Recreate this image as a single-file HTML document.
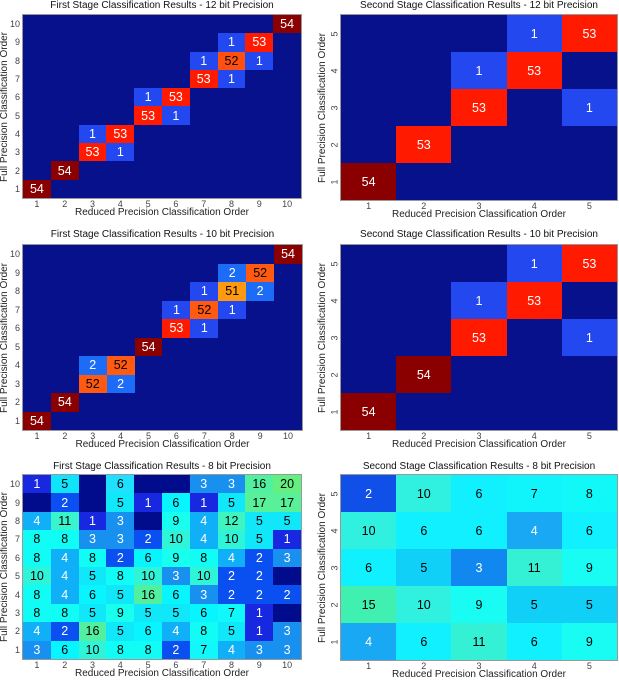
<!DOCTYPE html>
<html><head><meta charset="utf-8"><style>
body{margin:0;width:619px;height:679px;background:#fff;position:relative;overflow:hidden;font-family:"Liberation Sans",Arial,sans-serif}
.ax{position:absolute}
.g{position:absolute;left:0;top:0;width:100%;height:100%;display:grid;background:#07118c;box-shadow:0 0 0 1px #999}
.g10{grid-template-columns:repeat(10,1fr);grid-template-rows:repeat(10,1fr)}
.g5{grid-template-columns:repeat(5,1fr);grid-template-rows:repeat(5,1fr)}
.g>div{display:flex;align-items:center;justify-content:center;font-size:12.5px;color:#fff}
.k{color:#000!important}
.t{position:absolute;left:-60px;right:-60px;top:-15px;height:12px;line-height:12px;text-align:center;font-size:10px;color:#111;white-space:nowrap}
.xl{position:absolute;left:-40px;right:-40px;top:calc(100% + 9px);line-height:12px;text-align:center;font-size:10px;color:#222;white-space:nowrap}
.xt{position:absolute;left:0;width:100%;top:calc(100% + 1px);display:grid;font-size:9px;line-height:10px;color:#444;text-align:center}
.yt{position:absolute;top:0;height:100%;display:grid;font-size:9px;color:#444;text-align:right;width:14px;right:calc(100% + 3px)}
.yt.r{right:calc(100% - 1px)}
.yt div{display:flex;align-items:center;justify-content:flex-end}
.yt.r div{justify-content:center}
.yt.r div span{display:inline-block;transform:rotate(-90deg)}
.yl{position:absolute;top:50%;width:200px;left:-118px;margin-top:-6px;line-height:12px;text-align:center;font-size:10px;color:#222;transform:rotate(-90deg);white-space:nowrap}
.x10{grid-template-columns:repeat(10,1fr)}.x5{grid-template-columns:repeat(5,1fr)}
.y10{grid-template-rows:repeat(10,1fr)}.y5{grid-template-rows:repeat(5,1fr)}
</style></head><body>

<!-- TL -->
<div class="ax" style="left:23px;top:15px;width:278px;height:183px">
<div class="g g10">
<div style="grid-area:1/10;background:#8a0000">54</div>
<div style="grid-area:2/8;background:#2348f0">1</div><div style="grid-area:2/9;background:#ff1a00">53</div>
<div style="grid-area:3/7;background:#2348f0">1</div><div class="k" style="grid-area:3/8;background:#ff5010">52</div><div style="grid-area:3/9;background:#2348f0">1</div>
<div style="grid-area:4/7;background:#ff1a00">53</div><div style="grid-area:4/8;background:#2348f0">1</div>
<div style="grid-area:5/5;background:#2348f0">1</div><div style="grid-area:5/6;background:#ff1a00">53</div>
<div style="grid-area:6/5;background:#ff1a00">53</div><div style="grid-area:6/6;background:#2348f0">1</div>
<div style="grid-area:7/3;background:#2348f0">1</div><div style="grid-area:7/4;background:#ff1a00">53</div>
<div style="grid-area:8/3;background:#ff1a00">53</div><div style="grid-area:8/4;background:#2348f0">1</div>
<div style="grid-area:9/2;background:#8a0000">54</div>
<div style="grid-area:10/1;background:#8a0000">54</div>
</div>
<div class="t">First Stage Classification Results - 12 bit Precision</div>
<div class="xt x10"><span>1</span><span>2</span><span>3</span><span>4</span><span>5</span><span>6</span><span>7</span><span>8</span><span>9</span><span>10</span></div>
<div class="yt y10"><div>10</div><div>9</div><div>8</div><div>7</div><div>6</div><div>5</div><div>4</div><div>3</div><div>2</div><div>1</div></div>
<div class="xl">Reduced Precision Classification Order</div>
<div class="yl">Full Precision Classification Order</div>
</div>

<!-- TR -->
<div class="ax" style="left:341px;top:15px;width:276px;height:185px">
<div class="g g5">
<div style="grid-area:1/4;background:#2348f0">1</div><div style="grid-area:1/5;background:#ff1a00">53</div>
<div style="grid-area:2/3;background:#2348f0">1</div><div style="grid-area:2/4;background:#ff1a00">53</div>
<div style="grid-area:3/3;background:#ff1a00">53</div><div style="grid-area:3/5;background:#2348f0">1</div>
<div style="grid-area:4/2;background:#ff1a00">53</div>
<div style="grid-area:5/1;background:#8a0000">54</div>
</div>
<div class="t">Second Stage Classification Results - 12 bit Precision</div>
<div class="xt x5"><span>1</span><span>2</span><span>3</span><span>4</span><span>5</span></div>
<div class="yt y5 r"><div><span>5</span></div><div><span>4</span></div><div><span>3</span></div><div><span>2</span></div><div><span>1</span></div></div>
<div class="xl">Reduced Precision Classification Order</div>
<div class="yl">Full Precision Classification Order</div>
</div>

<!-- ML -->
<div class="ax" style="left:23px;top:245px;width:279px;height:185px">
<div class="g g10">
<div style="grid-area:1/10;background:#8a0000">54</div>
<div style="grid-area:2/8;background:#1c6cf8">2</div><div class="k" style="grid-area:2/9;background:#ff5a10">52</div>
<div style="grid-area:3/7;background:#2348f0">1</div><div class="k" style="grid-area:3/8;background:#ff9a10">51</div><div style="grid-area:3/9;background:#1c6cf8">2</div>
<div style="grid-area:4/6;background:#2348f0">1</div><div class="k" style="grid-area:4/7;background:#ff5a10">52</div><div style="grid-area:4/8;background:#2348f0">1</div>
<div style="grid-area:5/6;background:#ff1a00">53</div><div style="grid-area:5/7;background:#2348f0">1</div>
<div style="grid-area:6/5;background:#8a0000">54</div>
<div style="grid-area:7/3;background:#1c6cf8">2</div><div class="k" style="grid-area:7/4;background:#ff5a10">52</div>
<div class="k" style="grid-area:8/3;background:#ff5a10">52</div><div style="grid-area:8/4;background:#1c6cf8">2</div>
<div style="grid-area:9/2;background:#8a0000">54</div>
<div style="grid-area:10/1;background:#8a0000">54</div>
</div>
<div class="t" style="top:-16px">First Stage Classification Results - 10 bit Precision</div>
<div class="xt x10"><span>1</span><span>2</span><span>3</span><span>4</span><span>5</span><span>6</span><span>7</span><span>8</span><span>9</span><span>10</span></div>
<div class="yt y10"><div>10</div><div>9</div><div>8</div><div>7</div><div>6</div><div>5</div><div>4</div><div>3</div><div>2</div><div>1</div></div>
<div class="xl">Reduced Precision Classification Order</div>
<div class="yl">Full Precision Classification Order</div>
</div>

<!-- MR -->
<div class="ax" style="left:341px;top:245px;width:276px;height:185px">
<div class="g g5">
<div style="grid-area:1/4;background:#2348f0">1</div><div style="grid-area:1/5;background:#ff1a00">53</div>
<div style="grid-area:2/3;background:#2348f0">1</div><div style="grid-area:2/4;background:#ff1a00">53</div>
<div style="grid-area:3/3;background:#ff1a00">53</div><div style="grid-area:3/5;background:#2348f0">1</div>
<div style="grid-area:4/2;background:#8a0000">54</div>
<div style="grid-area:5/1;background:#8a0000">54</div>
</div>
<div class="t" style="top:-16px">Second Stage Classification Results - 10 bit Precision</div>
<div class="xt x5"><span>1</span><span>2</span><span>3</span><span>4</span><span>5</span></div>
<div class="yt y5 r"><div><span>5</span></div><div><span>4</span></div><div><span>3</span></div><div><span>2</span></div><div><span>1</span></div></div>
<div class="xl">Reduced Precision Classification Order</div>
<div class="yl">Full Precision Classification Order</div>
</div>

<!-- BL -->
<div class="ax" style="left:23px;top:475px;width:278px;height:184px">
<div class="g g10">
<div style="background:#1828e0">1</div><div class="k" style="background:#10e4fa">5</div><div style="background:#000c8c"></div><div class="k" style="background:#20e0ff">6</div><div style="background:#000c8c"></div><div style="background:#000c8c"></div><div style="background:#1890f0">3</div><div style="background:#1890f0">3</div><div class="k" style="background:#50f0a0">16</div><div class="k" style="background:#64f080">20</div>
<div style="background:#000c8c"></div><div style="background:#0a50f0">2</div><div style="background:#000c8c"></div><div class="k" style="background:#10e8fa">5</div><div style="background:#1828e0">1</div><div class="k" style="background:#08f4ff">6</div><div style="background:#1828e0">1</div><div class="k" style="background:#10e8fa">5</div><div class="k" style="background:#58f098">17</div><div class="k" style="background:#58f098">17</div>
<div style="background:#10b0f8">4</div><div class="k" style="background:#38f4cc">11</div><div style="background:#1828e0">1</div><div style="background:#1890f0">3</div><div style="background:#000c8c"></div><div class="k" style="background:#18fff0">9</div><div style="background:#10b0f8">4</div><div class="k" style="background:#40f4c0">12</div><div class="k" style="background:#10e8fa">5</div><div class="k" style="background:#10e8fa">5</div>
<div class="k" style="background:#10fcf4">8</div><div class="k" style="background:#10fcf4">8</div><div style="background:#1890f0">3</div><div style="background:#1890f0">3</div><div style="background:#0a50f0">2</div><div class="k" style="background:#30f4d8">10</div><div style="background:#10b0f8">4</div><div class="k" style="background:#30f4d8">10</div><div class="k" style="background:#10e8fa">5</div><div style="background:#1828e0">1</div>
<div class="k" style="background:#10fcf4">8</div><div style="background:#10b0f8">4</div><div class="k" style="background:#10fcf4">8</div><div style="background:#0a50f0">2</div><div class="k" style="background:#08f4ff">6</div><div class="k" style="background:#18fff0">9</div><div class="k" style="background:#10fcf4">8</div><div style="background:#10b0f8">4</div><div style="background:#0a50f0">2</div><div style="background:#1890f0">3</div>
<div class="k" style="background:#30f4d8">10</div><div style="background:#10b0f8">4</div><div class="k" style="background:#10e8fa">5</div><div class="k" style="background:#10fcf4">8</div><div class="k" style="background:#30f4d8">10</div><div style="background:#1890f0">3</div><div class="k" style="background:#30f4d8">10</div><div style="background:#0a50f0">2</div><div style="background:#0a50f0">2</div><div style="background:#000c8c"></div>
<div class="k" style="background:#10fcf4">8</div><div style="background:#10b0f8">4</div><div class="k" style="background:#08f4ff">6</div><div class="k" style="background:#10e8fa">5</div><div class="k" style="background:#50f0a0">16</div><div class="k" style="background:#08f4ff">6</div><div style="background:#1890f0">3</div><div style="background:#0a50f0">2</div><div style="background:#0a50f0">2</div><div style="background:#0a50f0">2</div>
<div class="k" style="background:#10fcf4">8</div><div class="k" style="background:#10fcf4">8</div><div class="k" style="background:#10e8fa">5</div><div class="k" style="background:#18fff0">9</div><div class="k" style="background:#10e8fa">5</div><div class="k" style="background:#10e8fa">5</div><div class="k" style="background:#08f4ff">6</div><div class="k" style="background:#10f8fa">7</div><div style="background:#1828e0">1</div><div style="background:#000c8c"></div>
<div style="background:#10b0f8">4</div><div style="background:#0a50f0">2</div><div class="k" style="background:#50f0a0">16</div><div class="k" style="background:#10e8fa">5</div><div class="k" style="background:#08f4ff">6</div><div style="background:#10b0f8">4</div><div class="k" style="background:#10fcf4">8</div><div class="k" style="background:#10e8fa">5</div><div style="background:#1828e0">1</div><div style="background:#1890f0">3</div>
<div style="background:#1890f0">3</div><div class="k" style="background:#08f4ff">6</div><div class="k" style="background:#30f4d8">10</div><div class="k" style="background:#10fcf4">8</div><div class="k" style="background:#10fcf4">8</div><div style="background:#0a50f0">2</div><div class="k" style="background:#10f8fa">7</div><div style="background:#10b0f8">4</div><div style="background:#1890f0">3</div><div style="background:#1890f0">3</div>
</div>
<div class="t" style="top:-14px">First Stage Classification Results -  8  bit Precision</div>
<div class="xt x10"><span>1</span><span>2</span><span>3</span><span>4</span><span>5</span><span>6</span><span>7</span><span>8</span><span>9</span><span>10</span></div>
<div class="yt y10"><div>10</div><div>9</div><div>8</div><div>7</div><div>6</div><div>5</div><div>4</div><div>3</div><div>2</div><div>1</div></div>
<div class="xl">Reduced Precision Classification Order</div>
<div class="yl">Full Precision Classification Order</div>
</div>

<!-- BR -->
<div class="ax" style="left:341px;top:475px;width:276px;height:185px">
<div class="g g5">
<div style="background:#1050e8">2</div><div class="k" style="background:#30f0e0">10</div><div class="k" style="background:#10f0ff">6</div><div class="k" style="background:#10f4fc">7</div><div class="k" style="background:#10f8f8">8</div>
<div class="k" style="background:#30f0e0">10</div><div class="k" style="background:#10f0ff">6</div><div class="k" style="background:#10f0ff">6</div><div style="background:#18a8f4">4</div><div class="k" style="background:#10f0ff">6</div>
<div class="k" style="background:#10f0ff">6</div><div class="k" style="background:#10d0f8">5</div><div style="background:#1088f0">3</div><div class="k" style="background:#34f0d4">11</div><div class="k" style="background:#18fcf4">9</div>
<div class="k" style="background:#40f0b0">15</div><div class="k" style="background:#30f0e0">10</div><div class="k" style="background:#18fcf4">9</div><div class="k" style="background:#10d0f8">5</div><div class="k" style="background:#10d0f8">5</div>
<div style="background:#18a8f4">4</div><div class="k" style="background:#10f0ff">6</div><div class="k" style="background:#34f0d4">11</div><div class="k" style="background:#10f0ff">6</div><div class="k" style="background:#18fcf4">9</div>
</div>
<div class="t" style="top:-14px">Second Stage Classification Results -  8  bit Precision</div>
<div class="xt x5"><span>1</span><span>2</span><span>3</span><span>4</span><span>5</span></div>
<div class="yt y5 r"><div><span>5</span></div><div><span>4</span></div><div><span>3</span></div><div><span>2</span></div><div><span>1</span></div></div>
<div class="xl">Reduced Precision Classification Order</div>
<div class="yl">Full Precision Classification Order</div>
</div>

</body></html>
